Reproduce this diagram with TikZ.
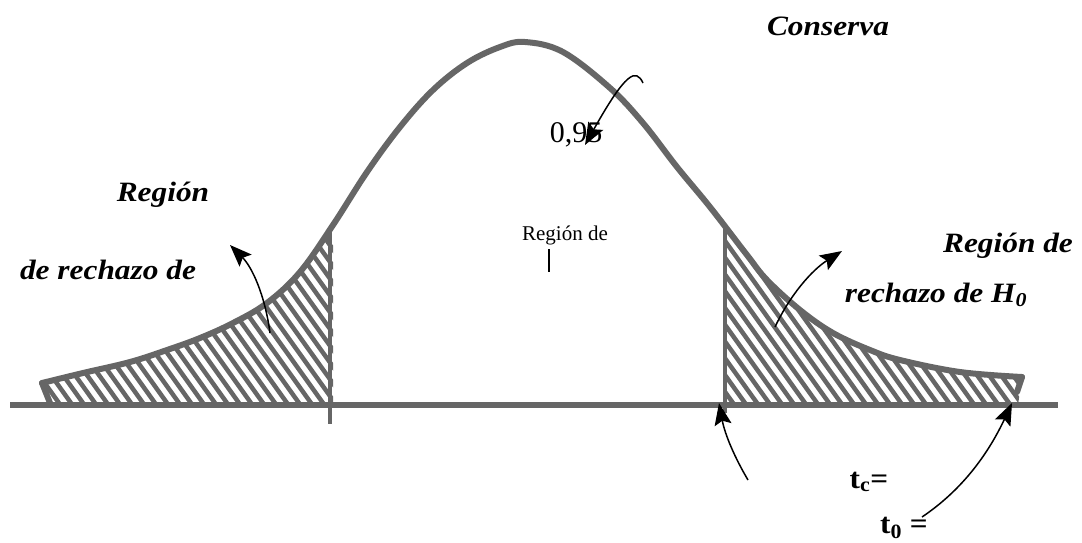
\documentclass[tikz,border=0pt]{standalone}
\usepackage{fontspec}
\setmainfont{Liberation Serif}
\usetikzlibrary{arrows.meta}

\definecolor{curveGray}{HTML}{666666}

\tikzset{
    CURVE/.style={draw=curveGray, line width=6pt, line cap=round, line join=round},
    AXIS/.style={draw=curveGray, line width=6pt},
    BORDER/.style={draw=curveGray, line width=4pt},
    HATCH/.style={draw=curveGray, line width=4.5pt},
    ARROW/.style={draw=black, line width=1.5pt, -{Stealth[length=22pt, width=17pt, inset=4pt]}},
    BIG_LABEL/.style={inner sep=0pt, xscale=1.12, font={\fontsize{28}{32}\selectfont\bfseries\itshape}},
    NUM_LABEL/.style={inner sep=0pt, font={\fontsize{30}{34}\selectfont}},
    SMALL_LABEL/.style={inner sep=0pt, font={\fontsize{21}{24}\selectfont}},
    T_LABEL/.style={inner sep=0pt, xscale=1.08, font={\fontsize{29}{32}\selectfont\bfseries}}
}

\begin{document}
\begin{tikzpicture}[x=1pt, y=-1pt]
    \useasboundingbox (0,0) rectangle (1082,542);

    % hatched tails
    \begin{scope}
        \clip plot[smooth, tension=0.6] coordinates {(42,383) (83,373) (130,362) (167,350) (200,338) (233,323) (267,303) (300,272) (333,225)}
            -- (333,405) -- (50,405) -- cycle;
        \foreach \i in {0,...,36} {
            \draw[HATCH] (-120+\i*12,220) -- ++(136,190);
        }
    \end{scope}
    \begin{scope}
        \clip plot[smooth, tension=0.6] coordinates {(710,207) (747,255) (767,280) (800,310) (833,333) (870,350) (900,360) (960,372) (1022,377)}
            -- (1018,405) -- (723,405) -- (723,200) -- cycle;
        \foreach \i in {0,...,40} {
            \draw[HATCH] (590+\i*12,220) -- ++(136,190);
        }
    \end{scope}

    % axis and borders
    \coordinate (axisL) at (10,405);
    \coordinate (axisR) at (1058,405);
    \draw[AXIS] (axisL) -- (axisR);
    \coordinate (leftTop) at (330,230);
    \coordinate (leftBot) at (330,424);
    \coordinate (rightTop) at (725,228);
    \coordinate (rightBot) at (725,413);
    \draw[BORDER] (leftTop) -- (leftBot);
    \draw[BORDER] (rightTop) -- (rightBot);

    % bell curve
    \draw[CURVE] (50,403) -- (42,383);
    \draw[CURVE] plot[smooth, tension=0.6] coordinates {(42,383) (83,373) (130,362) (167,350) (200,338) (233,323) (267,303) (300,272) (333,225) (367,172) (400,127) (433,90) (467,63) (500,47) (525,42) (563,52) (610,88) (643,123) (677,167) (710,207) (747,255) (767,280) (800,310) (833,333) (870,350) (900,360) (960,372) (1022,377)};
    \draw[CURVE] (1022,377) -- (1017,392);

    % labels
    \node [BIG_LABEL] (conserva) at (828,26) {Conserva};
    \node [NUM_LABEL] (prob) at (576,135) {0,95};
    \node [SMALL_LABEL] (acept) at (565,235) {Región de};
    \coordinate (tickTop) at (549,249);
    \coordinate (tickBot) at (549,272);
    \draw[line width=1.5pt] (tickTop) -- (tickBot);
    \node [BIG_LABEL] (izqA) at (163,195) {Región};
    \node [BIG_LABEL] (izqB) at (108,270) {de rechazo de};
    \node [BIG_LABEL] (derA) at (1008,246) {Región de};
    \node [BIG_LABEL] (derB) at (936,295) {rechazo de H\textsubscript{0}};
    \node [T_LABEL] (tc) at (869,482) {t\textsubscript{c}=};
    \node [T_LABEL] (tcero) at (904,528) {t\textsubscript{0} =};

    % arrows
    \coordinate (izqTail) at (270,333);
    \coordinate (izqHead) at (230,245);
    \draw[ARROW] (izqTail) .. controls (265,295) and (252,267) .. (izqHead);
    \coordinate (derTail) at (775,327);
    \coordinate (derHead) at (842,251);
    \draw[ARROW] (derTail) .. controls (790,295) and (812,270) .. (derHead);
    \coordinate (consTail) at (643,83);
    \coordinate (consHead) at (585,145);
    \draw[ARROW] (consTail) .. controls (636,68) and (626,72) .. (consHead);
    \coordinate (tcTail) at (748,480);
    \coordinate (tcHead) at (719,403);
    \draw[ARROW] (tcTail) .. controls (735,458) and (725,435) .. (tcHead);
    \coordinate (tceroTail) at (922,517);
    \coordinate (tceroHead) at (1012,403);
    \draw[ARROW] (tceroTail) .. controls (965,488) and (990,450) .. (tceroHead);
\end{tikzpicture}
\end{document}
